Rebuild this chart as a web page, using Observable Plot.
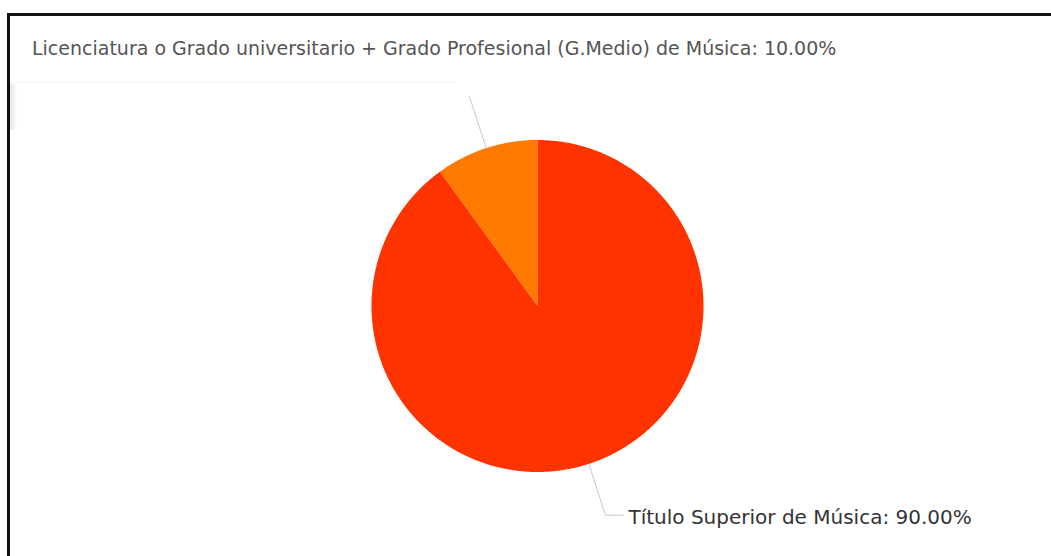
<!DOCTYPE html>
<html>
<head>
<meta charset="utf-8">
<script src="https://cdn.jsdelivr.net/npm/d3@7"></script>
<script src="https://cdn.jsdelivr.net/npm/@observablehq/plot@0.6"></script>
<style>
  html, body { margin: 0; padding: 0; background: #fff; overflow: hidden; }
  #wrap { position: relative; width: 1051px; height: 556px; }
  #frame { position: absolute; left: 7px; top: 13px; width: 1100px; height: 600px;
           border-top: 3px solid #111; border-left: 3px solid #111; box-sizing: border-box; }
  #chart { position: absolute; left: 0; top: 0; }
  #tip { position: absolute; left: 10px; top: 16px; width: 1041px; height: 66px; background: #fff;
         font-family: "DejaVu Sans", sans-serif; font-size: 19px; color: #555; }
  #tip span { position: absolute; left: 22px; top: 21px; white-space: nowrap; }
  #tipline { position: absolute; left: 10px; top: 81px; width: 446px; height: 2px; background: #f3f3f3; }
  #shadow { position: absolute; left: 10px; top: 84px; width: 7px; height: 46px;
            background: linear-gradient(to right, rgba(0,0,0,0.10), rgba(0,0,0,0)); }
</style>
</head>
<body>
<div id="wrap">
  <div id="chart"></div>
  <div id="frame"></div>
  <div id="tipline"></div>
  <div id="shadow"></div>
  <div id="tip"><span id="tiptext"></span></div>
</div>
<script>
// ---- data ----
const categories = [
  "Licenciatura o Grado universitario + Grado Profesional (G.Medio) de Música",
  "Título Superior de Música"
];
const values = [10, 90];
const colors = ["#FF7A00", "#FF3300"];

// ---- layout ----
const W = 1051, H = 556;
const CX = 537, CY = 305.5, R = 166;

const total = d3.sum(values);
const pct = v => (v / total * 100).toFixed(2) + "%";

const arcs = d3.pie().value(d => d.value)(categories.map((c, i) => ({name: c, value: values[i], color: colors[i]})));

// polygon points for each wedge, in radius units (y up)
const wedgePts = [];
for (const a of arcs) {
  wedgePts.push({name: a.data.name, x: 0, y: 0});
  const n = Math.max(2, Math.ceil((a.endAngle - a.startAngle) / (Math.PI / 360)));
  for (let k = 0; k <= n; k++) {
    const t = a.startAngle + (a.endAngle - a.startAngle) * k / n;
    wedgePts.push({name: a.data.name, x: Math.sin(t), y: Math.cos(t)});
  }
  wedgePts.push({name: a.data.name, x: 0, y: 0});
}

// leader lines
const rIn = 1.0, rOut = 1.325, hLen = 18 / R;
const leaderPts = [];
const labelPts = [];
for (const a of arcs) {
  const m = (a.startAngle + a.endAngle) / 2;
  const sx = Math.sin(m), cy = Math.cos(m);
  const right = sx >= 0;
  leaderPts.push({name: a.data.name, x: sx * rIn, y: cy * rIn});
  leaderPts.push({name: a.data.name, x: sx * rOut, y: cy * rOut});
  if (right) {
    leaderPts.push({name: a.data.name, x: sx * rOut + hLen, y: cy * rOut});
    labelPts.push({text: a.data.name + ": " + pct(a.data.value), x: sx * rOut + hLen, y: cy * rOut});
  }
}

const xDomain = [-CX / R, (W - CX) / R];
const yDomain = [-(H - CY) / R, CY / R];

const chart = Plot.plot({
  width: W,
  height: H,
  margin: 0,
  x: {domain: xDomain, axis: null},
  y: {domain: yDomain, axis: null},
  style: {background: "transparent"},
  marks: [
    Plot.line(leaderPts, {x: "x", y: "y", z: "name", stroke: "#c8c8c8", strokeWidth: 1}),
    Plot.line(wedgePts, {x: "x", y: "y", z: "name",
      fill: d => arcs.find(a => a.data.name === d.name).data.color, stroke: "none"}),
    Plot.text(labelPts, {x: "x", y: "y", text: "text", textAnchor: "start", dx: 5, dy: 2,
      fill: "#333", fontSize: 20, fontFamily: "DejaVu Sans"})
  ]
});
document.getElementById("chart").appendChild(chart);

// tooltip-like caption for the small slice
const small = arcs.find(a => a.data.value === d3.min(values));
document.getElementById("tiptext").textContent = small.data.name + ": " + pct(small.data.value);
</script>
</body>
</html>
